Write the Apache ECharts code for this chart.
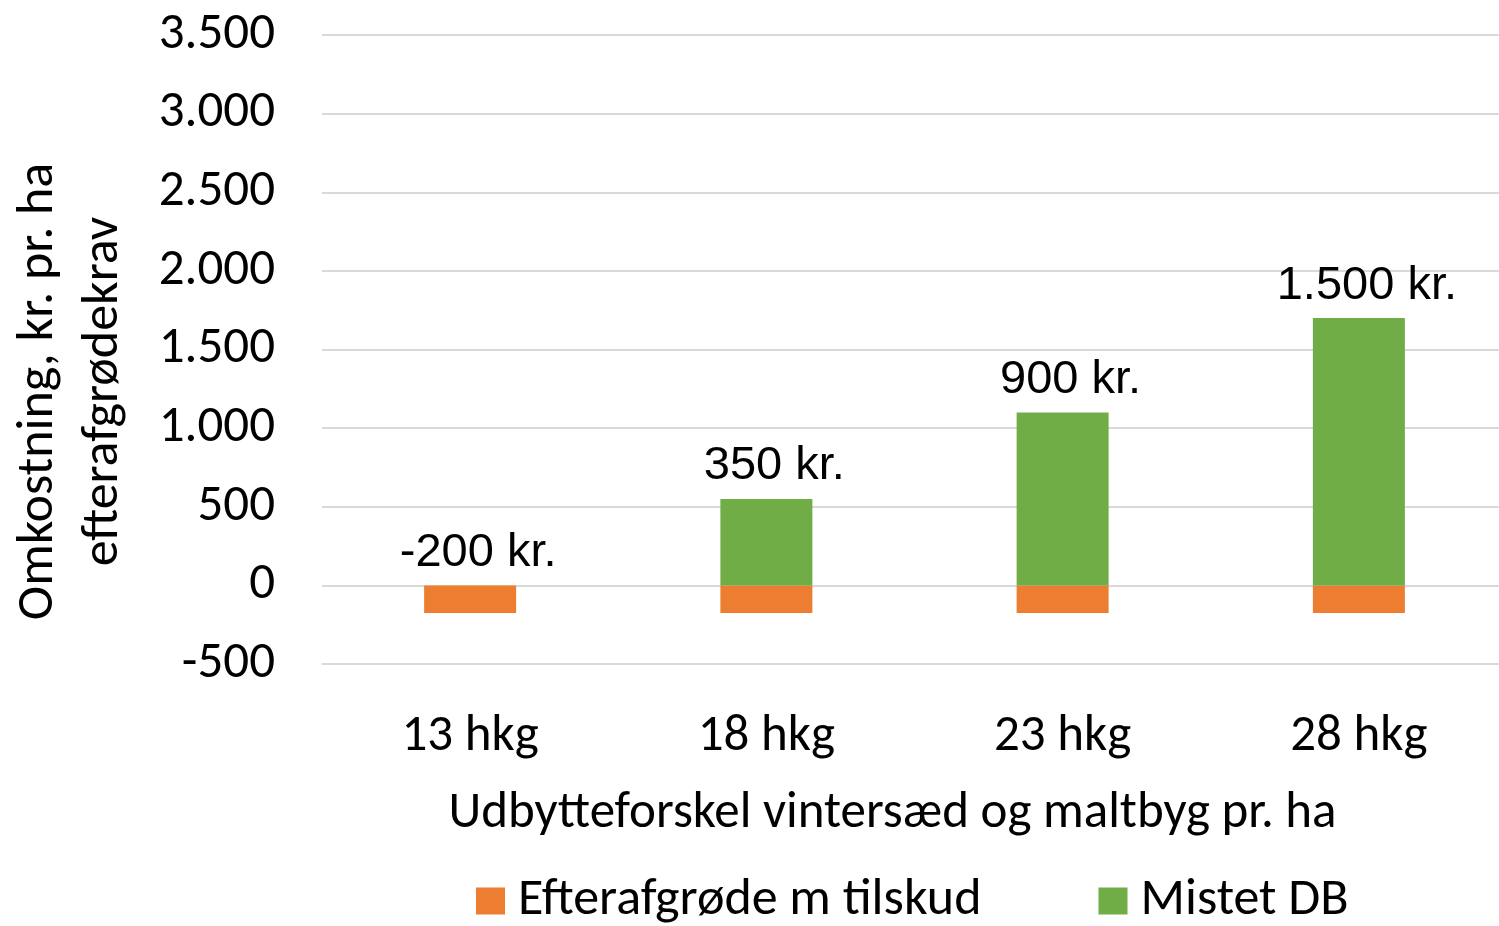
<!DOCTYPE html>
<html>
<head>
<meta charset="utf-8">
<script src="https://cdn.jsdelivr.net/npm/echarts@6/dist/echarts.min.js"></script>
<style>
html,body{margin:0;padding:0;background:#fff;}
#c{width:1499px;height:926px;}
</style>
</head>
<body>
<div id="c"></div>
<script>
const categories = ["13 hkg", "18 hkg", "23 hkg", "28 hkg"];
const efterafgrode = [-175, -175, -175, -175];
const mistetDB = [0, 550, 1100, 1700];
const totalLabels = ["-200 kr.", "350 kr.", "900 kr.", "1.500 kr."];
const yTicks = { min: -500, max: 3500, interval: 500 };
const seriesNames = ["Efterafgrøde m tilskud", "Mistet DB"];

const calibri = "Carlito, Lato, 'Open Sans', sans-serif";
const arial = "'Liberation Sans', Arial, sans-serif";

const chart = echarts.init(document.getElementById('c'), null, {renderer: 'canvas'});
chart.setOption({
  animation: false,
  backgroundColor: '#ffffff',
  grid: { left: 322, right: -8, top: 35, bottom: 262, containLabel: false, outerBoundsMode: 'none' },
  legend: {
    data: seriesNames,
    left: 471, top: 870,
    itemWidth: 29, itemHeight: 27, itemGap: 117,
    icon: 'rect',
    textStyle: { fontFamily: calibri, fontSize: 52, color: '#000', padding: [0,0,0,8] }
  },
  xAxis: {
    type: 'category',
    data: categories,
    axisLine: { show: false },
    axisTick: { show: false },
    axisLabel: { fontFamily: calibri, fontSize: 51, color: '#000', margin: 48 },
    name: 'Udbytteforskel vintersæd og maltbyg pr. ha',
    nameLocation: 'middle',
    nameGap: 125,
    nameTextStyle: { fontFamily: calibri, fontSize: 51, color: '#000', padding: [0, 44, 0, 0] }
  },
  yAxis: {
    type: 'value',
    min: yTicks.min, max: yTicks.max, interval: yTicks.interval,
    axisLine: { show: false },
    axisTick: { show: false },
    splitLine: { lineStyle: { color: '#d9d9d9', width: 2 } },
    axisLabel: {
      fontFamily: calibri, fontSize: 51, color: '#000', margin: 47,
      formatter: v => v.toLocaleString('da-DK').replace(/\u2212/g,'-')
    },
    name: 'Omkostning, kr. pr. ha\nefterafgrødekrav',
    nameLocation: 'middle',
    nameGap: 186,
    nameRotate: 90,
    nameTextStyle: { fontFamily: calibri, fontSize: 52, color: '#000', lineHeight: 65, align: 'center', padding: [0, 84, 0, 0] }
  },
  series: [
    {
      name: seriesNames[0], type: 'bar', data: efterafgrode,
      barWidth: 92, barGap: '-100%', itemStyle: { color: '#ED7D31' }
    },
    {
      name: seriesNames[1], type: 'bar', data: mistetDB,
      barWidth: 92, barGap: '-100%', itemStyle: { color: '#70AD47' },
      label: {
        show: true, position: 'top', distance: 9, offset: [8, 0],
        fontFamily: arial, fontSize: 47, color: '#000',
        formatter: p => totalLabels[p.dataIndex]
      }
    }
  ]
});
</script>
</body>
</html>
